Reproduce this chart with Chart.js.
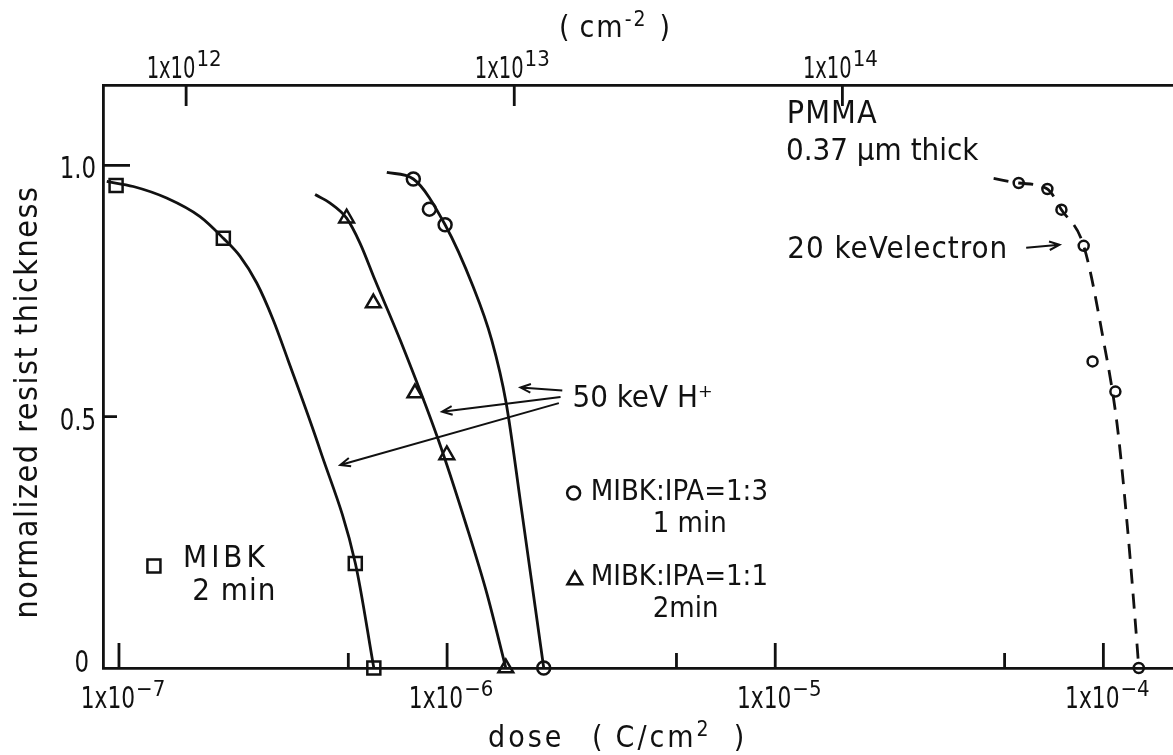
<!DOCTYPE html>
<html>
<head>
<meta charset="utf-8">
<script src="https://cdn.jsdelivr.net/npm/chart.js@4.4.1/dist/chart.umd.min.js"></script>
<style>
  html, body { margin: 0; padding: 0; background: #fff; overflow: hidden; }
  #wrap { width: 1173px; height: 755px; }
</style>
</head>
<body>
<div id="wrap"><canvas id="resistChart" width="1173" height="755"></canvas></div>
<script>
// axis ranges: dose in C/cm^2, thickness normalized to the initial film
const doseMin = 8.94e-8;
const doseMax = 1.63e-4;
const thicknessMax = 1.16;
const electronCharge = 1.602e-19; // C per ion, dose -> fluence (cm^-2)

const doseMajorTicks = [1e-7, 1e-6, 1e-5, 1e-4];
const doseMinorTicks = [5e-7, 5e-6, 5e-5];
const doseTickLabels = [["1x10", "−7"], ["1x10", "−6"], ["1x10", "−5"], ["1x10", "−4"]];
const fluenceTicks = [1e12, 1e13, 1e14];
const fluenceTickLabels = [["1x10", "12"], ["1x10", "13"], ["1x10", "14"]];
const thicknessTicks = [0, 0.5, 1.0];
const thicknessTickLabels = ["0", "0.5", "1.0"];

// measured points
const mibkDose = [0.98e-7, 2.08e-7, 5.25e-7, 5.98e-7];
const mibkThickness = [0.96, 0.855, 0.208, 0];
const ipa11Dose = [4.94e-7, 5.96e-7, 7.98e-7, 9.98e-7, 1.51e-6];
const ipa11Thickness = [0.895, 0.726, 0.547, 0.424, 0];
const ipa13Dose = [7.89e-7, 8.83e-7, 9.86e-7, 1.97e-6];
const ipa13Thickness = [0.973, 0.913, 0.882, 0];
const electronDose = [5.52e-5, 6.75e-5, 7.45e-5, 8.71e-5, 9.27e-5, 1.088e-4, 1.282e-4];
const electronThickness = [0.965, 0.953, 0.912, 0.840, 0.610, 0.550, 0];

// hand-fitted curves through each set
const mibkCurveDose = [9.18e-8, 1.106e-7, 1.397e-7, 1.766e-7, 2.08e-7, 2.34e-7, 2.63e-7, 2.95e-7, 3.274e-7, 4.1e-7, 5.25e-7, 5.98e-7];
const mibkCurveThickness = [0.968, 0.958, 0.935, 0.898, 0.855, 0.819, 0.766, 0.693, 0.613, 0.434, 0.209, 0];
const ipa11CurveDose = [3.96e-7, 4.40e-7, 4.94e-7, 5.43e-7, 6.03e-7, 7.19e-7, 9.40e-7, 1.148e-6, 1.321e-6, 1.51e-6];
const ipa11CurveThickness = [0.942, 0.925, 0.895, 0.845, 0.772, 0.653, 0.454, 0.281, 0.149, 0];
const ipa13CurveDose = [6.55e-7, 7.89e-7, 9.86e-7, 1.20e-6, 1.367e-6, 1.513e-6, 1.681e-6, 1.855e-6, 1.97e-6];
const ipa13CurveThickness = [0.986, 0.973, 0.882, 0.759, 0.653, 0.528, 0.321, 0.122, 0];
const electronCurveDose = [4.63e-5, 5.52e-5, 6.75e-5, 7.45e-5, 8.71e-5, 1.0e-4, 1.10e-4, 1.181e-4, 1.252e-4, 1.282e-4];
const electronCurveThickness = [0.974, 0.965, 0.953, 0.912, 0.840, 0.653, 0.487, 0.288, 0.089, 0];

const ink = '#111';
const tickFont = '"DejaVu Sans Condensed", "DejaVu Sans", sans-serif';
const textFont = '"DejaVu Sans Condensed", "DejaVu Sans", sans-serif';

function pairs(xs, ys) {
  return xs.map((x, i) => ({ x: x, y: ys[i] }));
}

function curve(xs, ys, dash) {
  return {
    data: pairs(xs, ys),
    showLine: true,
    pointRadius: 0,
    borderColor: ink,
    borderWidth: 2.8,
    borderDash: dash || [],
    cubicInterpolationMode: 'monotone',
    clip: false
  };
}

function markers(xs, ys, style, radius) {
  return {
    data: pairs(xs, ys),
    showLine: false,
    pointStyle: style,
    pointRadius: radius,
    borderWidth: 2.5,
    borderColor: ink,
    backgroundColor: 'rgba(0,0,0,0)',
    clip: false
  };
}

// text and arrows placed in data coordinates (dose, thickness)
const notes = [
  { text: 'PMMA', x: 1.085e-5, y: 1.085, size: 32, gap: 1 },
  { text: '0.37 µm thick', x: 1.078e-5, y: 1.011, size: 31, gap: 0 },
  { text: '20 keVelectron', x: 5.13e-5, y: 0.816, size: 31, gap: 1, align: 'right' },
  { text: '50 keV H⁺', x: 2.41e-6, y: 0.520, size: 31, gap: 0 },
  { text: 'MIBK:IPA=1:3', x: 2.74e-6, y: 0.334, size: 29, gap: 0 },
  { text: '1 min', x: 4.23e-6, y: 0.271, size: 29, gap: 0 },
  { text: 'MIBK:IPA=1:1', x: 2.74e-6, y: 0.165, size: 29, gap: 0 },
  { text: '2min', x: 4.23e-6, y: 0.1015, size: 29, gap: 0 },
  { text: 'MIBK', x: 1.568e-7, y: 0.201, size: 31, gap: 4 },
  { text: '2 min', x: 1.671e-7, y: 0.135, size: 31, gap: 1 }
];
const arrows = [
  { from: [2.244e-6, 0.552], to: [1.674e-6, 0.558] },
  { from: [2.217e-6, 0.539], to: [9.655e-7, 0.510] },
  { from: [2.191e-6, 0.527], to: [4.724e-7, 0.404] },
  { from: [5.817e-5, 0.836], to: [7.35e-5, 0.842] }
];
const keyMarks = [
  { style: 'circle', x: 2.43e-6, y: 0.348, r: 6.5 },
  { style: 'triangle', x: 2.45e-6, y: 0.175, r: 8.5 },
  { style: 'rect', x: 1.278e-7, y: 0.203, r: 9.2 }
];

function drawMark(ctx, style, x, y, r) {
  ctx.beginPath();
  if (style === 'circle') {
    ctx.arc(x, y, r, 0, Math.PI * 2);
  } else if (style === 'triangle') {
    ctx.moveTo(x, y - r);
    ctx.lineTo(x + r * Math.sqrt(3) / 2, y + r / 2);
    ctx.lineTo(x - r * Math.sqrt(3) / 2, y + r / 2);
    ctx.closePath();
  } else {
    const s = r * Math.SQRT1_2;
    ctx.rect(x - s, y - s, 2 * s, 2 * s);
  }
  ctx.stroke();
}

function drawArrow(ctx, x1, y1, x2, y2) {
  const a = Math.atan2(y2 - y1, x2 - x1);
  const head = 11;
  ctx.beginPath();
  ctx.moveTo(x1, y1);
  ctx.lineTo(x2, y2);
  ctx.moveTo(x2 - head * Math.cos(a - 0.4), y2 - head * Math.sin(a - 0.4));
  ctx.lineTo(x2, y2);
  ctx.lineTo(x2 - head * Math.cos(a + 0.4), y2 - head * Math.sin(a + 0.4));
  ctx.stroke();
}

// text run with raised parts and an optional horizontal squeeze; returns the end x
function drawRun(ctx, parts, x, baseline, size, family, squeeze) {
  const sx = squeeze || 1;
  ctx.textAlign = 'left';
  parts.forEach(p => {
    const s = p.sup ? Math.round(size * 0.7) : size;
    const k = p.sup ? 1 : sx;
    ctx.font = s + 'px ' + family;
    ctx.save();
    ctx.translate(x, baseline - (p.sup ? size * 0.38 : 0));
    ctx.scale(k, 1);
    ctx.fillText(p.t, 0, 0);
    ctx.restore();
    x += ctx.measureText(p.t).width * k + (p.after || 0);
  });
  return x;
}

function runWidth(ctx, parts, size, family, squeeze) {
  let w = 0;
  parts.forEach(p => {
    ctx.font = (p.sup ? Math.round(size * 0.7) : size) + 'px ' + family;
    w += ctx.measureText(p.t).width * (p.sup ? 1 : (squeeze || 1)) + (p.after || 0);
  });
  return w;
}

// "1x10" with a raised exponent, centred on cx
function drawPowerLabel(ctx, base, exp, cx, baseline, squeeze) {
  const parts = [{ t: base, after: 1 }, { t: exp, sup: true }];
  const w = runWidth(ctx, parts, 31, tickFont, squeeze);
  drawRun(ctx, parts, cx - w / 2, baseline, 31, tickFont, squeeze);
}

const axisDecor = {
  id: 'axisDecor',
  afterDraw(chart) {
    const ctx = chart.ctx;
    const area = chart.chartArea;
    const x = chart.scales.x, x2 = chart.scales.x2, y = chart.scales.y;
    ctx.save();
    ctx.strokeStyle = ink;
    ctx.fillStyle = ink;
    ctx.lineWidth = 2.8;
    ctx.lineCap = 'butt';

    // inward tick marks
    ctx.beginPath();
    doseMajorTicks.forEach(v => {
      const px = x.getPixelForValue(v);
      ctx.moveTo(px, area.bottom); ctx.lineTo(px, area.bottom - 25);
    });
    doseMinorTicks.forEach(v => {
      const px = x.getPixelForValue(v);
      ctx.moveTo(px, area.bottom); ctx.lineTo(px, area.bottom - 15);
    });
    fluenceTicks.forEach(v => {
      const px = x2.getPixelForValue(v);
      ctx.moveTo(px, area.top); ctx.lineTo(px, area.top + 21);
    });
    thicknessTicks.forEach(v => {
      if (v === 0) return;
      const py = y.getPixelForValue(v);
      ctx.moveTo(area.left, py); ctx.lineTo(area.left + (v === 1 ? 27 : 14), py);
    });
    ctx.stroke();

    // tick labels
    ctx.textBaseline = 'alphabetic';
    doseMajorTicks.forEach((v, i) => {
      drawPowerLabel(ctx, doseTickLabels[i][0], doseTickLabels[i][1], x.getPixelForValue(v) + 4, 708, 0.78);
    });
    fluenceTicks.forEach((v, i) => {
      drawPowerLabel(ctx, fluenceTickLabels[i][0], fluenceTickLabels[i][1], x2.getPixelForValue(v) - 2, 78, 0.7);
    });
    thicknessTicks.forEach((v, i) => {
      const py = y.getPixelForValue(v);
      const parts = [{ t: thicknessTickLabels[i] }];
      const right = v === 0 ? 89 : 96;
      drawRun(ctx, parts, right - runWidth(ctx, parts, 31, tickFont, 0.82),
        v === 0 ? py + 4 : py + 13, 31, tickFont, 0.82);
    });

    // axis titles
    ctx.letterSpacing = '3px';
    drawRun(ctx, [{ t: 'dose' }], 488, 747, 30, textFont);
    drawRun(ctx, [{ t: '(', after: 10 }, { t: 'C/cm' }, { t: '2', sup: true, after: 22 }, { t: ')' }], 592, 747, 30, textFont);
    ctx.letterSpacing = '2px';
    drawRun(ctx, [{ t: '(', after: 8 }, { t: 'cm' }, { t: '-2', sup: true, after: 12 }, { t: ')' }], 559, 37, 30, textFont);
    ctx.save();
    ctx.letterSpacing = '1.5px';
    ctx.font = '32px ' + textFont;
    ctx.translate(37, 402);
    ctx.rotate(-Math.PI / 2);
    ctx.textAlign = 'center';
    ctx.fillText('normalized resist thickness', 0, 0);
    ctx.restore();

    // annotations
    notes.forEach(n => {
      ctx.letterSpacing = n.gap + 'px';
      ctx.font = n.size + 'px ' + textFont;
      ctx.textAlign = n.align || 'left';
      ctx.fillText(n.text, x.getPixelForValue(n.x), y.getPixelForValue(n.y));
    });
    ctx.letterSpacing = '0px';
    ctx.lineWidth = 2;
    arrows.forEach(a => {
      drawArrow(ctx, x.getPixelForValue(a.from[0]), y.getPixelForValue(a.from[1]),
        x.getPixelForValue(a.to[0]), y.getPixelForValue(a.to[1]));
    });
    ctx.lineWidth = 2.5;
    keyMarks.forEach(k => {
      drawMark(ctx, k.style, x.getPixelForValue(k.x), y.getPixelForValue(k.y), k.r);
    });
    ctx.restore();
  }
};

const axisLine = { display: true, color: ink, width: 2.8 };

new Chart(document.getElementById('resistChart'), {
  type: 'scatter',
  data: {
    datasets: [
      curve(mibkCurveDose, mibkCurveThickness),
      curve(ipa11CurveDose, ipa11CurveThickness),
      curve(ipa13CurveDose, ipa13CurveThickness),
      curve(electronCurveDose, electronCurveThickness, [15, 10]),
      markers(mibkDose, mibkThickness, 'rect', 9.2),
      markers(ipa11Dose, ipa11Thickness, 'triangle', 8.5),
      markers(ipa13Dose, ipa13Thickness, 'circle', 6.5),
      markers(electronDose, electronThickness, 'circle', 5)
    ]
  },
  options: {
    responsive: false,
    animation: false,
    events: [],
    layout: { padding: 0, autoPadding: false },
    plugins: { legend: { display: false }, tooltip: { enabled: false } },
    scales: {
      x: {
        type: 'logarithmic', position: 'bottom', min: doseMin, max: doseMax,
        grid: { display: false }, ticks: { display: false }, border: axisLine,
        afterFit: s => { s.height = 87; }
      },
      x2: {
        type: 'logarithmic', position: 'top',
        min: doseMin / electronCharge, max: doseMax / electronCharge,
        grid: { display: false }, ticks: { display: false }, border: axisLine,
        afterFit: s => { s.height = 85; }
      },
      y: {
        type: 'linear', position: 'left', min: 0, max: thicknessMax,
        grid: { display: false }, ticks: { display: false }, border: axisLine,
        afterFit: s => { s.width = 103; }
      }
    }
  },
  plugins: [axisDecor]
});
</script>
</body>
</html>
